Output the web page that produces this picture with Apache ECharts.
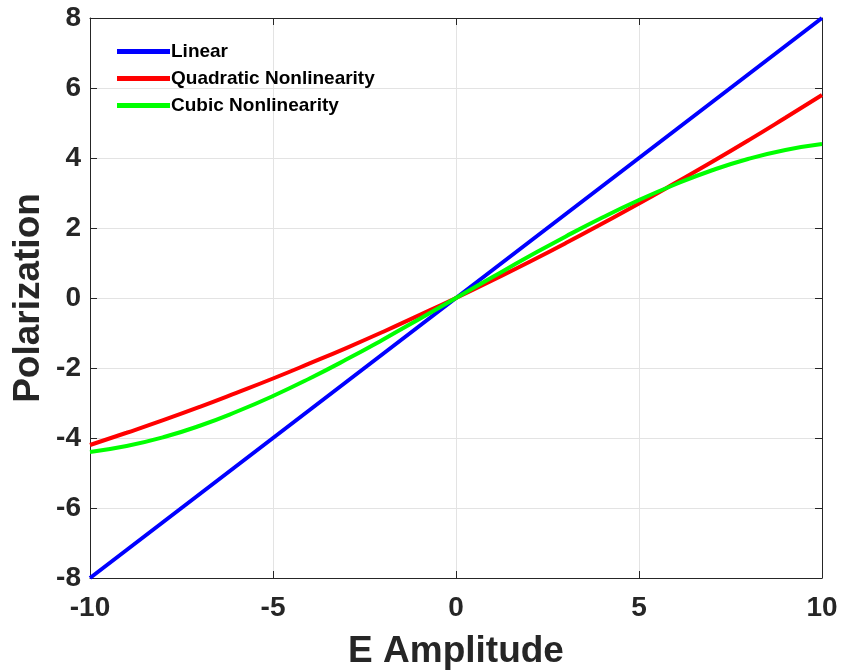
<!DOCTYPE html>
<html>
<head>
<meta charset="utf-8">
<script src="https://cdn.jsdelivr.net/npm/echarts@6/dist/echarts.min.js"></script>
<style>
  html, body { margin: 0; padding: 0; background: #fff; }
  #chart { width: 846px; height: 671px; }
</style>
</head>
<body>
<div id="chart"></div>
<script>
// E amplitude samples
const eValues = [-10, -9, -8, -7, -6, -5, -4, -3, -2, -1, 0, 1, 2, 3, 4, 5, 6, 7, 8, 9, 10];
// Polarization
const linearP = [-8, -7.2, -6.4, -5.6, -4.8, -4, -3.2, -2.4, -1.6, -0.8, 0, 0.8, 1.6, 2.4, 3.2, 4, 4.8, 5.6, 6.4, 7.2, 8];
const quadraticP = [-4.2, -3.85, -3.49, -3.11, -2.71, -2.3, -1.87, -1.43, -0.97, -0.49, 0, 0.51, 1.03, 1.57, 2.13, 2.7, 3.29, 3.89, 4.51, 5.15, 5.8];
const cubicP = [-4.4, -4.23, -3.98, -3.65, -3.25, -2.8, -2.3, -1.76, -1.19, -0.6, 0, 0.6, 1.19, 1.76, 2.3, 2.8, 3.25, 3.65, 3.98, 4.23, 4.4];

const font = "'Liberation Sans', Arial, sans-serif";
const frame = "#262626";

function pairs(ys) {
  return eValues.map((x, i) => [x, ys[i]]);
}

const chart = echarts.init(document.getElementById("chart"), null, { renderer: "canvas" });

const tickStyle = { show: true, inside: true, length: 7, lineStyle: { color: frame, width: 1 } };
const lineStyle = { show: true, onZero: false, lineStyle: { color: frame, width: 1 } };
const gridLine = { show: true, lineStyle: { color: "#e3e3e3", width: 1 } };

chart.setOption({
  animation: false,
  backgroundColor: "#fff",
  grid: { left: 90, right: 24, top: 18, bottom: 93, outerBoundsMode: "none", containLabel: false },
  legend: {
    orient: "vertical",
    left: 112,
    top: 37,
    itemWidth: 53,
    itemHeight: 5,
    itemGap: 8,
    icon: "rect",
    data: ["Linear", "Quadratic Nonlinearity", "Cubic Nonlinearity"],
    textStyle: { fontFamily: font, fontWeight: "bold", fontSize: 19, color: "#000", padding: [0, 0, 0, -4] },
  },
  xAxis: [
    {
      type: "value",
      min: -10, max: 10, interval: 5,
      name: "E Amplitude",
      nameLocation: "middle",
      nameGap: 55,
      nameMoveOverlap: false,
      nameTextStyle: { fontFamily: font, fontWeight: "bold", fontSize: 37, color: frame },
      axisLine: lineStyle,
      axisTick: tickStyle,
      axisLabel: { fontFamily: font, fontWeight: "bold", fontSize: 28, color: frame, margin: 16 },
      splitLine: gridLine,
    },
    {
      type: "value", position: "top",
      min: -10, max: 10, interval: 5,
      axisLine: lineStyle,
      axisTick: tickStyle,
      axisLabel: { show: false },
      splitLine: { show: false },
    },
  ],
  yAxis: [
    {
      type: "value",
      min: -8, max: 8, interval: 2,
      name: "Polarization",
      nameLocation: "middle",
      nameGap: 43,
      nameMoveOverlap: false,
      nameTextStyle: { fontFamily: font, fontWeight: "bold", fontSize: 37, color: frame },
      axisLine: lineStyle,
      axisTick: tickStyle,
      axisLabel: { fontFamily: font, fontWeight: "bold", fontSize: 28, color: frame, margin: 9 },
      splitLine: gridLine,
    },
    {
      type: "value", position: "right",
      min: -8, max: 8, interval: 2,
      axisLine: lineStyle,
      axisTick: tickStyle,
      axisLabel: { show: false },
      splitLine: { show: false },
    },
  ],
  series: [
    {
      name: "Linear", type: "line", data: pairs(linearP),
      symbol: "none", smooth: false, color: "#0000ff",
      lineStyle: { width: 4, color: "#0000ff" }, z: 3,
    },
    {
      name: "Quadratic Nonlinearity", type: "line", data: pairs(quadraticP),
      symbol: "none", smooth: true, color: "#ff0000",
      lineStyle: { width: 4, color: "#ff0000" }, z: 4,
    },
    {
      name: "Cubic Nonlinearity", type: "line", data: pairs(cubicP),
      symbol: "none", smooth: true, color: "#00ff00",
      lineStyle: { width: 4, color: "#00ff00" }, z: 5,
    },
  ],
});
</script>
</body>
</html>
